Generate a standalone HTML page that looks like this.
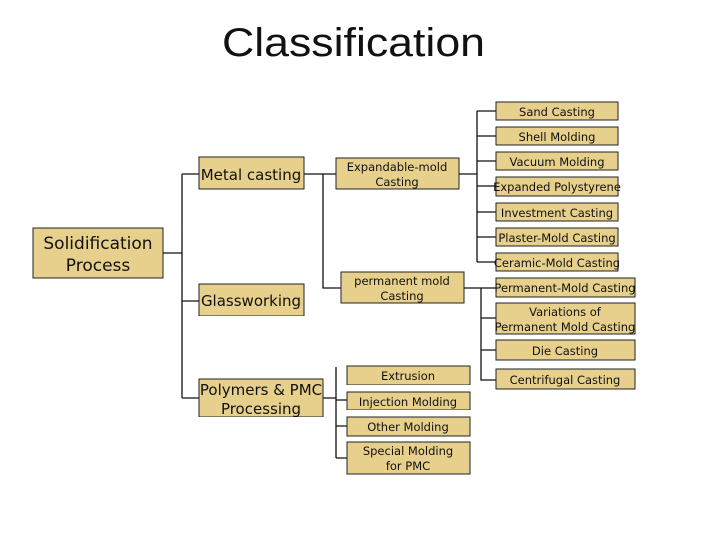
<!DOCTYPE html>
<html><head><meta charset="utf-8"><style>
html,body{margin:0;padding:0;background:#fff;}
svg{display:block;}
text{font-family:"DejaVu Sans","Liberation Sans",sans-serif;fill:#111;}
</style></head><body>
<svg width="720" height="540" viewBox="0 0 720 540" xmlns="http://www.w3.org/2000/svg">
<text x="222" y="56" font-family="Liberation Sans" style="font-family:'Liberation Sans',sans-serif" font-size="40" textLength="263" lengthAdjust="spacingAndGlyphs">Classification</text>
<g stroke="#111" stroke-width="1.3" fill="none">
<path d="M163 253H182M182 174V398M182 174H199M182 301H199M182 398H199"/>
<path d="M304 174H342M323 174V288H341"/>
<path d="M459 174H477M477 111V262M477 111H496M477 136H496M477 161H496M477 186H496M477 212H496M477 237H496M477 262H496"/>
<path d="M464 288H496M481 288V380H496M481 318H496M481 350H496"/>
<path d="M323 398H336M336 367V458M336 400H347M336 426H347M336 458H347"/>
</g>
<g fill="#e7d08b" stroke="#222" stroke-width="1">
<rect x="33" y="228" width="130" height="50"/>
<rect x="199" y="157" width="105" height="32"/>
<rect x="199" y="284" width="105" height="32"/>
<rect x="199" y="379" width="124" height="38"/>
<rect x="336" y="158" width="123" height="31"/>
<rect x="341" y="272" width="123" height="31"/>
<rect x="496" y="102" width="122" height="18"/>
<rect x="496" y="127" width="122" height="18"/>
<rect x="496" y="152" width="122" height="18"/>
<rect x="496" y="177" width="122" height="19"/>
<rect x="496" y="203" width="122" height="18"/>
<rect x="496" y="228" width="122" height="18"/>
<rect x="496" y="253" width="122" height="18"/>
<rect x="496" y="278" width="139" height="19"/>
<rect x="496" y="303" width="139" height="31"/>
<rect x="496" y="340" width="139" height="20"/>
<rect x="496" y="369" width="139" height="20"/>
<rect x="347" y="366" width="123" height="19"/>
<rect x="347" y="392" width="123" height="18"/>
<rect x="347" y="417" width="123" height="19"/>
<rect x="347" y="442" width="123" height="32"/>
</g>
<g fill="#fff"><rect x="198" y="316" width="108" height="4"/><rect x="198" y="417" width="127" height="4"/><rect x="346" y="385" width="126" height="3"/><rect x="346" y="410" width="126" height="3"/></g>
<g text-anchor="middle">
<text x="98" y="249" font-size="17">Solidification</text>
<text x="98" y="271" font-size="17">Process</text>
<text x="251" y="180" font-size="15">Metal casting</text>
<text x="251" y="306" font-size="15">Glassworking</text>
<text x="261" y="395" font-size="15">Polymers &amp; PMC</text>
<text x="261" y="414" font-size="15">Processing</text>
<text x="397" y="171" font-size="11.5">Expandable-mold</text>
<text x="397" y="186" font-size="11.5">Casting</text>
<text x="402" y="285" font-size="11.5">permanent mold</text>
<text x="402" y="300" font-size="11.5">Casting</text>
<g font-size="11.5">
<text x="557" y="116">Sand Casting</text>
<text x="557" y="141">Shell Molding</text>
<text x="557" y="166">Vacuum Molding</text>
<text x="557" y="191">Expanded Polystyrene</text>
<text x="557" y="217">Investment Casting</text>
<text x="557" y="242">Plaster-Mold Casting</text>
<text x="557" y="267">Ceramic-Mold Casting</text>
<text x="565" y="292">Permanent-Mold Casting</text>
<text x="565" y="316">Variations of</text>
<text x="565" y="331">Permanent Mold Casting</text>
<text x="565" y="355">Die Casting</text>
<text x="565" y="384">Centrifugal Casting</text>
<text x="408" y="380">Extrusion</text>
<text x="408" y="406">Injection Molding</text>
<text x="408" y="431">Other Molding</text>
<text x="408" y="455">Special Molding</text>
<text x="408" y="470">for PMC</text>
</g>
</g>
</svg>
</body></html>
